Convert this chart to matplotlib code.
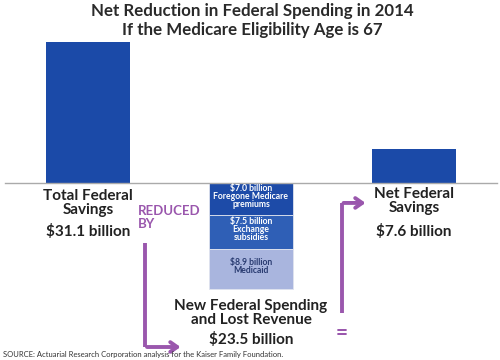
import matplotlib.pyplot as plt

plt.rcParams['font.family'] = ['Lato', 'DejaVu Sans']

# data
categories = ["Total Federal\nSavings", "New Federal Spending\nand Lost Revenue", "Net Federal\nSavings"]
totals = [31.1, 23.5, 7.6]
components = [7.0, 7.5, 8.9]
comp_labels = ["Foregone Medicare\npremiums", "Exchange\nsubsidies", "Medicaid"]
comp_colors = ["#1d4ba8", "#2f5fb6", "#a9b5de"]
comp_text = ["white", "white", "#283a70"]

blue = "#1b4aa8"
purple = "#9a57ad"
dark = "#222222"

fig = plt.figure(figsize=(5, 3.6), dpi=100)
ax = fig.add_axes([0, 0, 1, 1])
ax.set_xlim(-0.54, 2.528)
ax.set_ylim(-39.07, 40.4)
ax.axis('off')

w = 0.515
# positive bars
ax.bar([0, 2], [totals[0], totals[2]], width=w, color=blue)
# stacked negative bar
bottom = 0
for val, lab, c, tc in zip(components, comp_labels, comp_colors, comp_text):
    ax.bar(1, -val, bottom=bottom, width=w, color=c, edgecolor="#dfe3ee", linewidth=0.6)
    ax.text(1, bottom - val / 2 + 0.5, f"${val:.1f} billion\n{lab}", ha='center', va='center',
            color=tc, fontsize=6.2, fontweight='bold', linespacing=0.85)
    bottom -= val

ax.axhline(0, xmin=0.01, xmax=0.994, color="#aaaaaa", lw=1)

# category labels
lab_kw = dict(ha='center', va='center', fontsize=11, fontweight='bold', color=dark, linespacing=1.0)
ax.text(0, -4.4, categories[0], **lab_kw)
ax.text(0, -10.6, f"${totals[0]:.1f} billion", **lab_kw)
ax.text(1, -28.6, categories[1], **lab_kw)
ax.text(1, -34.6, f"${totals[1]:.1f} billion", **lab_kw)
ax.text(2, -4.0, categories[2], **lab_kw)
ax.text(2, -10.8, f"${totals[2]:.1f} billion", **lab_kw)

ax.text(0.307, -7.6, "REDUCED\nBY", ha='left', va='center', fontsize=9.5,
        fontweight='bold', color=purple, linespacing=1.15)

# arrows
ax.plot([0.352, 0.352], [-13.2, -36.2], color=purple, lw=2.8, solid_capstyle='butt')
ax.annotate("", xy=(0.585, -36.2), xytext=(0.345, -36.2),
            arrowprops=dict(arrowstyle='->,head_length=0.5,head_width=0.35', color=purple, lw=2.8))
ax.plot([1.558, 1.558], [-28.7, -4.4], color=purple, lw=2.8, solid_capstyle='butt')
ax.annotate("", xy=(1.72, -4.4), xytext=(1.551, -4.4),
            arrowprops=dict(arrowstyle='->,head_length=0.5,head_width=0.35', color=purple, lw=2.8))
ax.text(1.558, -33.0, "=", ha='center', va='center', fontsize=15, fontweight='bold', color=purple)

# title and source
fig.text(0.504, 1 - 11 / 360, "Net Reduction in Federal Spending in 2014", ha='center', va='center',
         fontsize=12.2, fontweight='bold', color="#2a2a2a")
fig.text(0.504, 1 - 30 / 360, "If the Medicare Eligibility Age is 67", ha='center', va='center',
         fontsize=12.2, fontweight='bold', color="#2a2a2a")
fig.text(0.006, 1 - 354 / 360, "SOURCE: Actuarial Research Corporation analysis for the Kaiser Family Foundation.",
         ha='left', va='center', fontsize=5.5, color="#333333")

fig.savefig("out.png", dpi=100)
